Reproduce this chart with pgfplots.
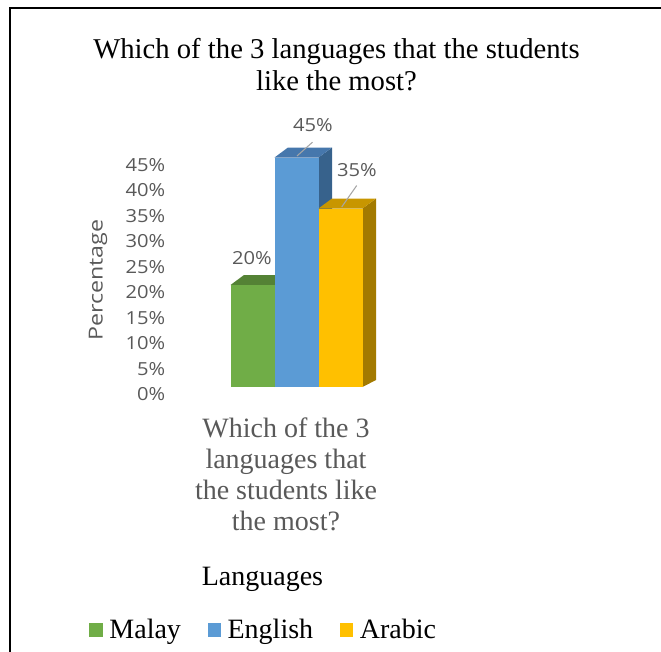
\documentclass[border=0pt]{standalone}
\usepackage{pgfplots}
\pgfplotsset{compat=1.18}
\usepackage{fontspec}
\setmainfont{Liberation Serif}
\newfontfamily\sansf{Open Sans}[FakeStretch=1.12]
\newfontfamily\sansP{Open Sans}[FakeStretch=1.2]
\definecolor{cgreen}{HTML}{70AD47}
\definecolor{cgreentop}{HTML}{548235}
\definecolor{cgreenside}{HTML}{4E7A31}
\definecolor{cblue}{HTML}{5B9BD5}
\definecolor{cbluetop}{HTML}{4677AC}
\definecolor{cblueside}{HTML}{37628C}
\definecolor{cyel}{HTML}{FFC000}
\definecolor{cyeltop}{HTML}{C89600}
\definecolor{cyelside}{HTML}{A37A00}
\definecolor{cgray}{HTML}{595959}
\definecolor{cleader}{HTML}{A6A6A6}
\begin{document}
\begin{tikzpicture}
\path[use as bounding box] (0,0) rectangle (495.75pt,-489pt);
\draw[line width=1.7pt] (7.5pt,-489pt) -- (7.5pt,-6pt) -- (495.75pt,-6pt);
\begin{axis}[
  at={(127.5pt,-290.25pt)}, anchor=south west,
  scale only axis, width=172.5pt, height=183.6pt,
  xmin=170, xmax=400, ymin=0, ymax=48,
  clip=false,
  axis line style={draw=none},
  tick style={draw=none},
  major tick length=0pt,
  ytick={0,5,10,15,20,25,30,35,40,45},
  yticklabels={0\%,5\%,10\%,15\%,20\%,25\%,30\%,35\%,40\%,45\%},
  yticklabel style={font=\sansf\fontsize{13.5}{16}\selectfont, text=cgray, yshift=-5.6pt},
  xtick={286},
  xticklabels={{Which of the 3\\languages that\\the students like\\the most?}},
  xticklabel style={align=center, font=\fontsize{21}{23.3}\selectfont, text=cgray, yshift=-19.5pt},
  title={Which of the 3 languages that the students\\like the most?},
  title style={at={(axis description cs:0.724,1.283)}, anchor=center, align=center, font=\fontsize{21.5}{24}\selectfont},
  xlabel={Languages},
  xlabel style={at={(axis description cs:0.402,-0.787)}, anchor=center, font=\fontsize{21}{23.5}\selectfont},
  ylabel={Percentage},
  ylabel style={at={(axis description cs:-0.313,0.437)}, anchor=center, font=\sansP\fontsize{14.5}{16}\selectfont, text=cgray},
  legend style={at={(axis description cs:0.409,-0.993)}, anchor=center, draw=none, fill=none,
    font=\fontsize{21}{23.5}\selectfont, legend columns=3,
    /tikz/every even column/.append style={column sep=18pt},
    /tikz/every odd column/.append style={column sep=3pt}},
  legend image code/.code={\fill[#1] (0pt,-5pt) rectangle (10pt,5pt);},
]
% Malay
\addplot[fill=cgreenside, draw=none, forget plot] coordinates {(274.5,0) (288,1.37) (288,21.96) (274.5,20)};
\addplot[fill=cgreentop, draw=none, forget plot] coordinates {(230.5,20) (274.5,20) (288,21.96) (244,21.96)};
\addplot[fill=cgreen, draw=none, forget plot] coordinates {(230.5,0) (274.5,0) (274.5,20) (230.5,20)};
% English
\addplot[fill=cblueside, draw=none, forget plot] coordinates {(318.5,0) (332,1.37) (332,46.96) (318.5,45)};
\addplot[fill=cbluetop, draw=none, forget plot] coordinates {(274.5,45) (318.5,45) (332,46.96) (288,46.96)};
\addplot[fill=cblue, draw=none, forget plot] coordinates {(274.5,0) (318.5,0) (318.5,45) (274.5,45)};
% Arabic
\addplot[fill=cyelside, draw=none, forget plot] coordinates {(362.5,0) (376,1.37) (376,36.96) (362.5,35)};
\addplot[fill=cyeltop, draw=none, forget plot] coordinates {(318.5,35) (362.5,35) (376,36.96) (332,36.96)};
\addplot[fill=cyel, draw=none, forget plot] coordinates {(318.5,0) (362.5,0) (362.5,35) (318.5,35)};
% leader lines
\addplot[cleader, line width=0.8pt, forget plot] coordinates {(297,45.3) (312.5,48.0)};
\addplot[cleader, line width=0.8pt, forget plot] coordinates {(341.7,35.3) (356.7,39.5)};
% data labels
\node[font=\sansf\fontsize{13.5}{16}\selectfont, text=cgray] at (axis cs:252,25.3) {20\%};
\node[font=\sansf\fontsize{13.5}{16}\selectfont, text=cgray] at (axis cs:313,51.3) {45\%};
\node[font=\sansf\fontsize{13.5}{16}\selectfont, text=cgray] at (axis cs:357,42.5) {35\%};
% legend
\addlegendimage{fill=cgreen, draw=none}
\addlegendimage{fill=cblue, draw=none}
\addlegendimage{fill=cyel, draw=none}
\legend{Malay, English, Arabic}
\end{axis}
\end{tikzpicture}
\end{document}
